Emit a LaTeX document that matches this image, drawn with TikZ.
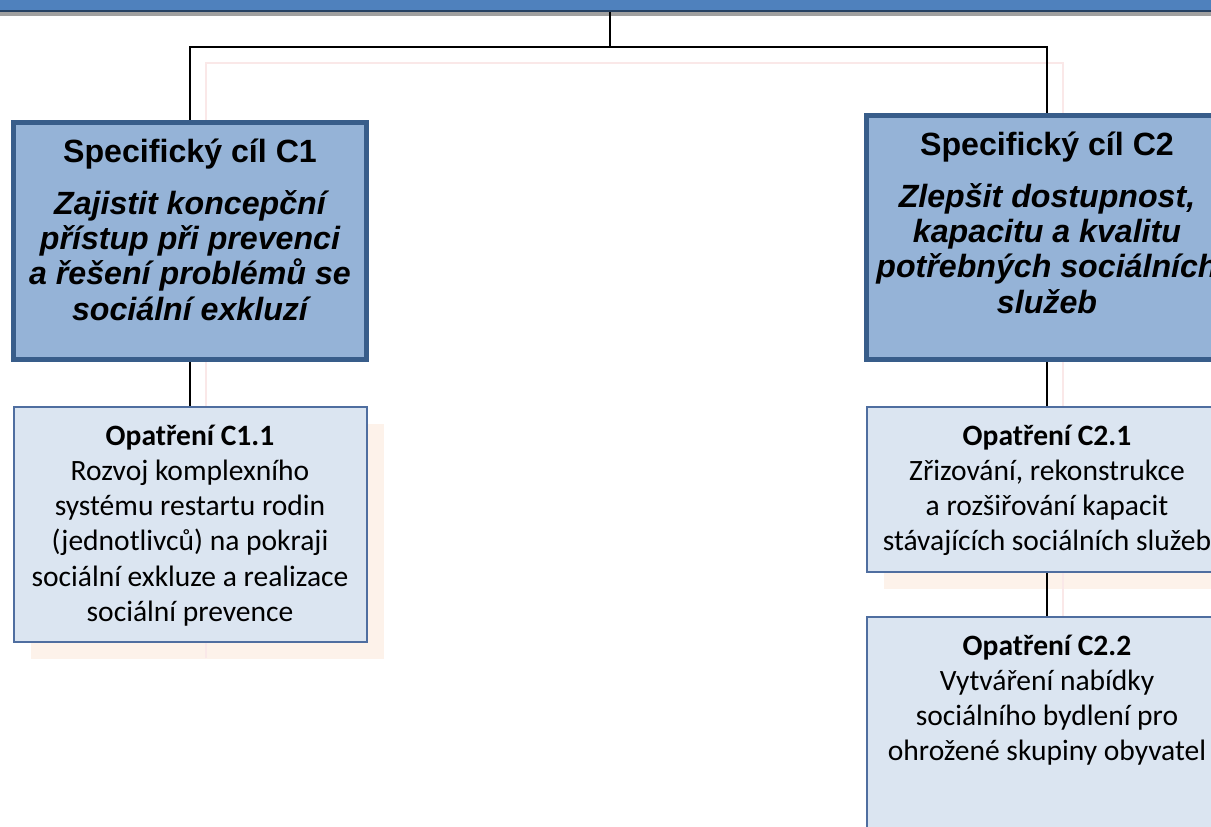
\documentclass[tikz,border=0pt]{standalone}
\usepackage{fontspec}
\setmainfont{Carlito}
\newfontfamily\headfont{Liberation Sans}
\usetikzlibrary{positioning,backgrounds}

\definecolor{topblue}{RGB}{79,129,189}
\definecolor{topline}{RGB}{37,64,97}
\definecolor{topgray}{RGB}{160,160,160}
\definecolor{goalfill}{RGB}{149,179,215}
\definecolor{goalline}{RGB}{56,93,138}
\definecolor{measurefill}{RGB}{219,229,241}
\definecolor{measureline}{RGB}{79,110,160}
\definecolor{shadefill}{RGB}{253,242,234}
\definecolor{linkpink}{RGB}{250,232,232}

\newlength\pxu
\setlength\pxu{0.02cm}
% text block of a box: width, height (in px), text
\newcommand{\inbox}[3]{\parbox[t][#2\pxu][t]{#1\pxu}{\centering #3}}
\newcommand{\goaltext}[2]{\headfont\fontsize{18.3}{20.1}\selectfont
  \rule{0pt}{40\pxu}\textbf{#1}\par\vspace{16.5\pxu}\bfseries\itshape #2}
\newcommand{\measuretext}[2]{\rule{0pt}{38\pxu}\textbf{#1}\\ #2}

\begin{document}
\begin{tikzpicture}[x=0.02cm,y=-0.02cm,outer sep=0pt,
    goal box/.style={draw=goalline, line width=5\pxu, fill=goalfill, inner sep=0pt},
    measure box/.style={draw=measureline, line width=2\pxu, fill=measurefill, inner sep=0pt,
      font=\fontsize{16.8}{20.1}\selectfont},
    box shade/.style={fill=shadefill, draw=none},
    link/.style={draw=black, line width=2\pxu},
    link shade/.style={draw=linkpink, line width=2\pxu}]

  \useasboundingbox (0,0) rectangle (1211,826);
  \clip (0,0) rectangle (1211,826);

  % main goal, cut off at the top of the page
  \node[draw=topline, line width=2\pxu, fill=topblue, inner sep=0pt, anchor=south,
    minimum width=1300\pxu, minimum height=80\pxu] (main) at (610,11) {};
  \coordinate (split) at (610,47);

  \node[goal box, anchor=north west] (c1) at (13.5,122.5)
    {\inbox{353}{237}{\goaltext{Specifický cíl C1}{Zajistit koncepční\\ přístup při prevenci\\ a řešení problémů se\\ sociální exkluzí}}};
  \node[goal box, anchor=north west] (c2) at (866.5,115.5)
    {\inbox{361}{244}{\goaltext{Specifický cíl C2}{Zlepšit dostupnost,\\ kapacitu a kvalitu\\ potřebných sociálních\\ služeb}}};

  \node[measure box, below=47.5\pxu of c1] (c11)
    {\inbox{353}{235}{\measuretext{Opatření C1.1}{Rozvoj komplexního\\ systému restartu rodin\\ (jednotlivců) na pokraji\\ sociální exkluze a realizace\\ sociální prevence}}};
  \node[measure box, below=47.5\pxu of c2] (c21)
    {\inbox{361}{165}{\measuretext{Opatření C2.1}{Zřizování, rekonstrukce\\ a rozšiřování kapacit\\ stávajících sociálních služeb}}};
  \node[measure box, below=45\pxu of c21] (c22)
    {\inbox{361}{240}{\measuretext{Opatření C2.2}{Vytváření nabídky\\ sociálního bydlení pro\\ ohrožené skupiny obyvatel}}};

  \begin{scope}[on background layer]
    \fill[topgray] ([shift={(0,5)}]main.south west) rectangle ([shift={(0,5)}]main.north east);
    \fill[box shade] ([shift={(17,17)}]c11.north west) rectangle ([shift={(17,17)}]c11.south east);
    \fill[box shade] ([shift={(17,17)}]c21.north west) rectangle ([shift={(17,17)}]c21.south east);
    \draw[link shade] ([shift={(16,16)}]c11.south) -- ([shift={(16,16)}]c1.north)
      |- ([shift={(16,16)}]split) -| ([shift={(16,16)}]c22.north);

    \draw[link] (main.south) -- (split);
    \draw[link] (c1.north) |- (split) -| (c2.north);
    \draw[link] (c1.south) -- (c11.north);
    \draw[link] (c2.south) -- (c21.north);
    \draw[link] (c21.south) -- (c22.north);
  \end{scope}
\end{tikzpicture}
\end{document}
